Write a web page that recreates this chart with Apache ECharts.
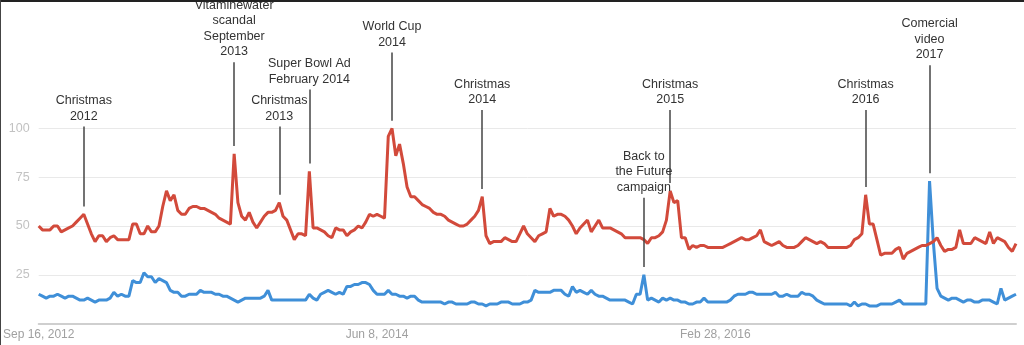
<!DOCTYPE html>
<html>
<head>
<meta charset="utf-8">
<script src="https://cdn.jsdelivr.net/npm/echarts@6/dist/echarts.min.js"></script>
<style>
  html, body { margin: 0; padding: 0; background: #fff; }
  #wrap { position: relative; width: 1024px; height: 345px; overflow: hidden; }
  #chart { width: 1024px; height: 345px; }
  .edge-top { position: absolute; left: 0; top: 0; width: 1024px; height: 2px; background: #222; }
  .edge-left { position: absolute; left: 0; top: 0; width: 1px; height: 345px; background: #444; }
</style>
</head>
<body>
<div id="wrap">
  <div id="chart"></div>
  <div class="edge-top"></div>
  <div class="edge-left"></div>
</div>
<script>
// Weekly search interest, first week starting Sep 16, 2012
const START_UTC = Date.UTC(2012, 8, 16);
const WEEK_COUNT = 261;
const MONTHS = ['Jan','Feb','Mar','Apr','May','Jun','Jul','Aug','Sep','Oct','Nov','Dec'];

const tickLabels = ['Sep 16, 2012', 'Jun 8, 2014', 'Feb 28, 2016'];
const gridValues = [25, 50, 75, 100];

const redSeries = [
  50,48,48,48,50,50,47,48,49,50,
  52,54,56,51,46,42,45,45,42,44,
  45,43,43,43,43,51,51,46,46,50,
  47,47,50,60,68,63,66,58,56,56,
  59,60,60,59,59,58,57,56,54,53,
  52,51,87,62,55,53,57,52,49,52,
  55,57,57,58,62,55,53,48,43,46,
  46,45,78,49,49,48,47,45,44,49,
  48,48,45,47,48,50,49,52,56,55,
  56,55,54,96,100,86,92,82,70,65,
  65,63,61,60,59,57,56,56,55,53,
  52,51,50,50,51,53,55,58,65,45,
  41,42,42,42,44,43,42,42,46,50,
  46,44,42,45,46,47,59,55,56,56,
  55,53,50,46,49,51,53,47,50,53,
  49,49,49,48,47,46,44,44,44,44,
  44,43,41,44,44,45,47,53,68,62,
  63,44,44,38,40,39,40,40,39,39,
  39,39,39,40,41,42,43,44,43,43,
  44,45,48,42,41,40,41,42,40,39,
  39,39,40,42,44,43,42,41,42,41,
  39,39,39,39,39,39,40,43,44,46,
  66,51,51,43,35,36,36,36,38,39,
  33,36,37,38,39,40,40,41,42,44,
  40,37,38,38,39,48,41,41,41,44,
  43,42,41,47,41,44,43,42,39,37,
  41
];

const blueSeries = [
  15,14,13,14,14,15,14,13,14,14,
  13,12,12,13,12,11,12,12,12,13,
  16,14,15,14,14,22,21,21,26,24,
  24,21,23,22,21,17,16,16,14,14,
  15,15,15,17,16,16,16,15,15,14,
  14,13,12,11,12,13,13,13,13,13,
  14,17,12,12,12,12,12,12,12,12,
  12,12,15,13,12,15,16,17,16,15,
  16,15,19,19,20,20,21,21,20,17,
  15,15,15,17,15,15,14,14,13,14,
  14,12,11,11,11,11,11,11,10,11,
  11,10,10,10,10,11,11,10,10,9,
  10,10,10,11,11,11,10,10,10,11,
  11,12,17,16,16,16,16,17,17,17,
  15,14,19,16,17,16,15,17,15,14,
  14,13,12,12,12,12,12,11,10,15,
  15,25,12,13,12,11,13,12,13,12,
  12,11,11,10,10,11,11,13,11,11,
  11,11,11,11,12,14,15,15,15,16,
  16,15,15,15,15,15,16,14,14,15,
  14,14,14,16,15,15,14,12,11,10,
  10,10,10,10,10,10,9,11,9,10,
  10,9,9,9,10,10,10,10,11,12,
  10,10,10,10,10,10,10,73,42,18,
  14,13,12,13,13,12,11,12,12,11,
  11,12,12,12,11,10,18,12,13,14,
  15
];

// Event callouts: week index, which line they point at, and the height the leader line reaches
const annotationTexts = [
  'Christmas\n2012',
  'Vitaminewater\nscandal\nSeptember\n2013',
  'Christmas\n2013',
  'Super Bowl Ad\nFebruary 2014',
  'World Cup\n2014',
  'Christmas\n2014',
  'Back to\nthe Future\ncampaign',
  'Christmas\n2015',
  'Christmas\n2016',
  'Comercial\nvideo\n2017'
];
const annotationWeeks = [12, 52, 64, 72, 94, 118, 161, 168, 220, 237];
const annotationTargets = ['red','red','red','red','red','red','blue','red','red','blue'];
const annotationTops = [101, 134, 101, 120, 139, 109.5, 64.5, 109.5, 109.5, 132.5];
const LEADER_GAP = 4;

function fmtWeek(i) {
  const d = new Date(START_UTC + i * 7 * 86400000);
  return MONTHS[d.getUTCMonth()] + ' ' + d.getUTCDate() + ', ' + d.getUTCFullYear();
}
const weeks = [];
for (let i = 0; i < WEEK_COUNT; i++) weeks.push(fmtWeek(i));

const FONT = "'Liberation Sans', Arial, Helvetica, sans-serif";

const leaderLines = [];
const calloutPoints = [];
annotationTexts.forEach((text, k) => {
  const w = annotationWeeks[k];
  const src = annotationTargets[k] === 'red' ? redSeries : blueSeries;
  const cat = weeks[w];
  leaderLines.push([
    { coord: [cat, annotationTops[k]] },
    { coord: [cat, src[w] + LEADER_GAP] }
  ]);
  calloutPoints.push({
    coord: [cat, annotationTops[k]],
    label: { formatter: text }
  });
});

const chart = echarts.init(document.getElementById('chart'), null, { renderer: 'canvas' });
chart.setOption({
  animation: false,
  backgroundColor: '#fff',
  textStyle: { fontFamily: FONT },
  grid: { left: 36, right: 8, top: 11.5, bottom: 21.5, containLabel: false },
  xAxis: {
    type: 'category',
    data: weeks,
    boundaryGap: false,
    axisLine: { show: true, lineStyle: { color: '#cfcfcf', width: 2 } },
    axisTick: { show: false },
    splitLine: { show: false },
    axisLabel: {
      interval: (idx, val) => tickLabels.indexOf(val) !== -1,
      color: '#a0a0a0',
      fontSize: 12,
      fontFamily: FONT,
      margin: 5
    }
  },
  yAxis: {
    type: 'value',
    min: 0,
    max: 160,
    interval: 25,
    axisLine: { show: false },
    axisTick: { show: false },
    splitLine: { show: false },
    axisLabel: {
      formatter: v => (v > 0 && v <= 100) ? String(v) : '',
      color: '#c2c2c2',
      fontSize: 12.5,
      fontFamily: FONT,
      margin: 9
    }
  },
  series: [
    {
      name: 'blue',
      type: 'line',
      data: blueSeries,
      symbol: 'none',
      z: 2,
      lineStyle: { color: '#3f8fd8', width: 3 },
      itemStyle: { color: '#3f8fd8' },
      markLine: {
        silent: true,
        z: 1,
        symbol: 'none',
        label: { show: false },
        lineStyle: { color: '#e9e9e9', width: 1, type: 'solid' },
        data: gridValues.map(v => ({ yAxis: v }))
      }
    },
    {
      name: 'red',
      type: 'line',
      data: redSeries,
      symbol: 'none',
      z: 3,
      lineStyle: { color: '#d24a3b', width: 3 },
      itemStyle: { color: '#d24a3b' },
      markLine: {
        silent: true,
        symbol: 'none',
        label: { show: false },
        lineStyle: { color: '#444', width: 1.5, type: 'solid' },
        data: leaderLines
      },
      markPoint: {
        silent: true,
        symbol: 'circle',
        symbolSize: 1,
        itemStyle: { color: 'rgba(0,0,0,0)' },
        label: {
          show: true,
          position: 'top',
          distance: 2,
          color: '#333',
          fontSize: 12.5,
          lineHeight: 15.5,
          fontFamily: FONT,
          align: 'center'
        },
        data: calloutPoints
      }
    }
  ]
});
</script>
</body>
</html>
